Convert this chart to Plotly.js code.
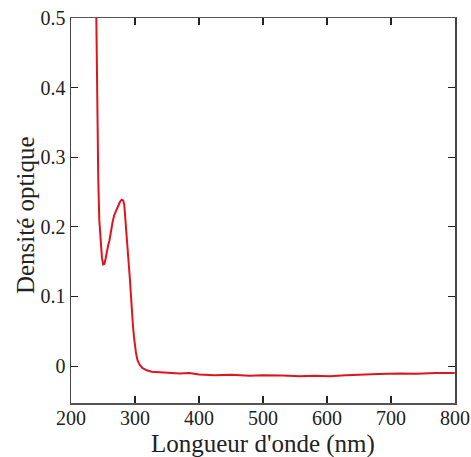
<!DOCTYPE html>
<html>
<head>
<meta charset="utf-8">
<script src="https://cdn.plot.ly/plotly-3.0.1.min.js"></script>
<style>html,body{margin:0;padding:0;background:#fff;}#chart{width:471px;height:457px;}</style>
</head>
<body>
<div id="chart"></div>
<script>
const wavelength = [238.8, 239.5, 240.6, 241.7, 242.6, 244.2, 246.8, 248.4, 250.4, 252.3, 254.2, 256.0, 258.2, 260.0, 262.5, 265.0, 267.6, 270.5, 273.9, 276.5, 279.2, 281.5, 283.2, 284.4, 285.4, 287.0, 288.5, 291.0, 292.1, 293.8, 295.2, 296.8, 298.4, 300.0, 301.5, 304.0, 307.7, 312.0, 318.2, 326.0, 338.9, 352.0, 370.0, 385.0, 400.0, 424.8, 450.0, 479.0, 500.0, 530.0, 557.5, 580.0, 604.0, 630.0, 651.0, 680.0, 713.7, 740.0, 770.0, 799.5];
const absorbance = [0.56, 0.500, 0.419, 0.332, 0.268, 0.210, 0.172, 0.155, 0.146, 0.147, 0.155, 0.166, 0.174, 0.180, 0.196, 0.207, 0.217, 0.224, 0.232, 0.236, 0.239, 0.238, 0.232, 0.218, 0.200, 0.186, 0.172, 0.148, 0.124, 0.100, 0.076, 0.058, 0.042, 0.029, 0.019, 0.008, 0.0014, -0.003, -0.006, -0.008, -0.009, -0.0095, -0.0105, -0.010, -0.012, -0.013, -0.0125, -0.0137, -0.013, -0.0135, -0.0144, -0.0138, -0.0144, -0.013, -0.012, -0.0115, -0.0105, -0.011, -0.010, -0.010];
const xTicks = [200, 300, 400, 500, 600, 700, 800];
const yTicks = [0, 0.1, 0.2, 0.3, 0.4, 0.5];
const xTitle = "Longueur d'onde (nm)";
const yTitle = 'Densité optique';

const serif = "'Liberation Serif', 'Times New Roman', serif";
const titleFont = {family: serif, size: 25, color: '#222'};
Plotly.newPlot('chart', [{
  x: wavelength, y: absorbance, type: 'scatter', mode: 'lines',
  line: {color: '#e0141e', width: 2}, hoverinfo: 'skip'
}], {
  width: 471, height: 457,
  margin: {l: 71, r: 16, t: 18, b: 54},
  paper_bgcolor: '#fff', plot_bgcolor: '#fff',
  showlegend: false,
  font: {family: serif, size: 20, color: '#222'},
  xaxis: {
    range: [200, 800], tickvals: xTicks, ticktext: xTicks.map(String),
    ticks: 'inside', ticklen: 7, tickwidth: 1.2, tickcolor: '#222',
    showline: true, linecolor: '#555', linewidth: 1.5, mirror: 'ticks',
    showgrid: false, zeroline: false, ticklabelstandoff: -4,
    tickfont: {family: serif, size: 20, color: '#222'}
  },
  yaxis: {
    range: [-0.053, 0.5], tickvals: yTicks, ticktext: yTicks.map(v => v === 0 ? '0' : v.toFixed(1)),
    ticks: 'inside', ticklen: 7, tickwidth: 1.2, tickcolor: '#222',
    showline: true, linecolor: '#444', linewidth: 1.5, mirror: 'ticks',
    showgrid: false, zeroline: false,
    tickfont: {family: serif, size: 20, color: '#222'}
  },
  annotations: [
    {text: xTitle, xref: 'paper', yref: 'paper', x: 0.5, y: 0, xanchor: 'center', yanchor: 'middle',
     yshift: -41, showarrow: false, font: titleFont},
    {text: yTitle, xref: 'paper', yref: 'paper', x: 0, y: 0.488, xanchor: 'center', yanchor: 'middle',
     xshift: -46, textangle: -90, showarrow: false, font: titleFont}
  ]
}, {displayModeBar: false, staticPlot: true});
</script>
</body>
</html>
